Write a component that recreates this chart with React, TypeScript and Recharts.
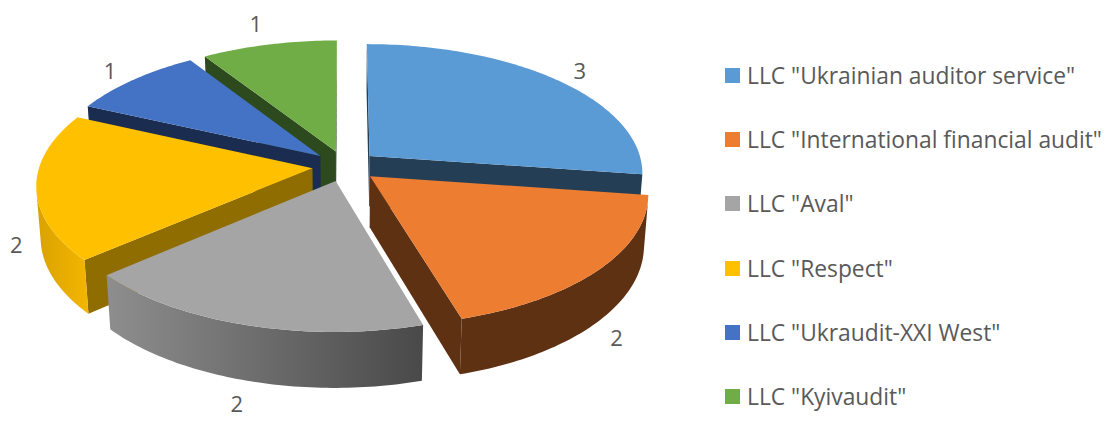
import { PieChart, Pie, Legend } from "recharts";

const COMPANIES = [
  'LLC "Ukrainian auditor service"',
  'LLC "International financial audit"',
  'LLC "Aval"',
  'LLC "Respect"',
  'LLC "Ukraudit-XXI West"',
  'LLC "Kyivaudit"',
];
const AUDIT_COUNTS = [3, 2, 2, 2, 1, 1];

const TOP_COLORS = ["#5B9BD5", "#ED7D31", "#A5A5A5", "#FFC000", "#4472C4", "#70AD47"];
const SIDE_COLORS = ["#243F55", "#5E3113", "#555555", "#8F6D00", "#1A2C4F", "#2C4A1E"];
// outer rim gets a left→right gradient on the two slices where it's visible
const RIM_GRADIENTS: Array<[string, string] | null> = [
  null,
  null,
  ["#8E8E8E", "#494949"],
  ["#D9A200", "#F3B600"],
  null,
  null,
];

// back slices first so the front ones overlap them
const DRAW_ORDER = [5, 4, 0, 3, 2, 1];

const FONT = '"Open Sans", "Noto Sans", sans-serif';
const TEXT_COLOR = "#595959";

const data = COMPANIES.map((name, i) => ({ name, value: AUDIT_COUNTS[i] }));

// fake 3D: tilted disc seen through a perspective camera
const RAD = Math.PI / 180;
const ELEV = 28 * RAD;
const CAM_DIST = 7.1; // in pie radii
const DEPTH = 0.213;
const EXPLODE = 0.12;
const SIN_E = Math.sin(ELEV);
const COS_E = Math.cos(ELEV);

type Pt = [number, number];

function projector(cx: number, cy: number, radius: number) {
  const f = radius * CAM_DIST;
  return (u: number, v: number, z: number): Pt => {
    const w = CAM_DIST + v * COS_E - z * SIN_E;
    return [cx + (f * u) / w, cy - (f * (v * SIN_E + z * COS_E)) / w];
  };
}

const toPath = (pts: Pt[]) =>
  pts.map((p, i) => `${i ? "L" : "M"}${p[0].toFixed(2)},${p[1].toFixed(2)}`).join("") + "Z";

function Slice3D(props: any) {
  const { cx, cy, outerRadius, startAngle, endAngle } = props;
  const name = props.payload?.name ?? props.name;
  const i = COMPANIES.indexOf(name);
  const t0 = (90 - startAngle) * RAD;
  const t1 = (90 - endAngle) * RAD;
  const tm = (t0 + t1) / 2;
  const ox = EXPLODE * Math.sin(tm);
  const oy = EXPLODE * Math.cos(tm);
  const P = projector(cx, cy, outerRadius);
  const rim = (t: number, z: number) => P(ox + Math.sin(t), oy + Math.cos(t), z);
  const apexTop = P(ox, oy, 0);
  const apexBot = P(ox, oy, -DEPTH);

  const steps = Math.max(6, Math.ceil((t1 - t0) / RAD));
  const ts: number[] = [];
  for (let k = 0; k <= steps; k++) ts.push(t0 + ((t1 - t0) * k) / steps);

  // a face is drawn only when the camera sits on its outer side
  const camV = -CAM_DIST * COS_E;
  const rimVisible = (t: number) =>
    -Math.sin(t) * (ox + Math.sin(t)) + (camV - oy - Math.cos(t)) * Math.cos(t) > 0;
  const startVisible = ox * Math.cos(t0) + (camV - oy) * Math.sin(t0) > 0;
  const endVisible = -ox * Math.cos(t1) - (camV - oy) * Math.sin(t1) > 0;

  const side = SIDE_COLORS[i];
  const grad = RIM_GRADIENTS[i];
  const faces: JSX.Element[] = [];

  if (startVisible) {
    faces.push(<path key="s" d={toPath([apexTop, rim(t0, 0), rim(t0, -DEPTH), apexBot])} fill={side} />);
  }
  if (endVisible) {
    faces.push(<path key="e" d={toPath([apexTop, rim(t1, 0), rim(t1, -DEPTH), apexBot])} fill={side} />);
  }
  const vis = ts.filter(rimVisible);
  if (vis.length > 1) {
    const top = vis.map((t) => rim(t, 0));
    const bot = vis.map((t) => rim(t, -DEPTH)).reverse();
    faces.push(<path key="r" d={toPath([...top, ...bot])} fill={grad ? `url(#rim-${i})` : side} />);
  }
  const topFace = [apexTop, ...ts.map((t) => rim(t, 0))];

  return (
    <g>
      {grad && (
        <defs>
          <linearGradient id={`rim-${i}`} x1="0" y1="0" x2="1" y2="0">
            <stop offset="0%" stopColor={grad[0]} />
            <stop offset="100%" stopColor={grad[1]} />
          </linearGradient>
        </defs>
      )}
      {faces}
      <path d={toPath(topFace)} fill={TOP_COLORS[i]} />
    </g>
  );
}

function renderValueLabel(props: any) {
  const { cx, cy, outerRadius, midAngle, value } = props;
  const tm = (90 - midAngle) * RAD;
  const ox = EXPLODE * Math.sin(tm);
  const oy = EXPLODE * Math.cos(tm);
  const P = projector(cx, cy, outerRadius);
  const z = Math.cos(tm) > 0 ? 0 : -DEPTH;
  const [x, y] = P(ox + Math.sin(tm), oy + Math.cos(tm), z);
  const dx = x - cx;
  const dy = y - cy;
  const len = Math.hypot(dx, dy) || 1;
  return (
    <text
      key={`lbl-${props.index}`}
      x={x + (dx / len) * 25}
      y={y + (dy / len) * 25}
      textAnchor="middle"
      dominantBaseline="central"
      fill={TEXT_COLOR}
      fontSize={22}
      fontFamily={FONT}
    >
      {value}
    </text>
  );
}

function LegendList() {
  return (
    <div style={{ fontFamily: FONT, fontSize: 22.8, color: TEXT_COLOR }}>
      {COMPANIES.map((name, i) => (
        <div key={name} style={{ height: 64.3, display: "flex", alignItems: "center", whiteSpace: "nowrap" }}>
          <span style={{ width: 15, height: 15, background: TOP_COLORS[i], marginRight: 7, flex: "none" }} />
          <span>{name}</span>
        </div>
      ))}
    </div>
  );
}

export default function App() {
  const last = DRAW_ORDER.length - 1;
  return (
    <div style={{ position: "absolute", left: 0, top: 0, width: 1110, height: 421, background: "#fff" }}>
      <PieChart width={1110} height={421} margin={{ top: 0, right: 0, bottom: 0, left: 0 }}>
        {DRAW_ORDER.map((k, n) => (
          <Pie
            key={k}
            data={data}
            dataKey="value"
            nameKey="name"
            cx={345}
            cy={166}
            outerRadius={273}
            startAngle={90}
            endAngle={-270}
            isAnimationActive={false}
            shape={(p: any) =>
              (p.payload?.name ?? p.name) === COMPANIES[k] ? <Slice3D {...p} /> : <g />
            }
            label={n === last ? renderValueLabel : false}
            labelLine={false}
          />
        ))}
        <Legend
          layout="vertical"
          align="right"
          verticalAlign="top"
          wrapperStyle={{ left: 725, top: 43, width: 385 }}
          content={() => <LegendList />}
        />
      </PieChart>
    </div>
  );
}
